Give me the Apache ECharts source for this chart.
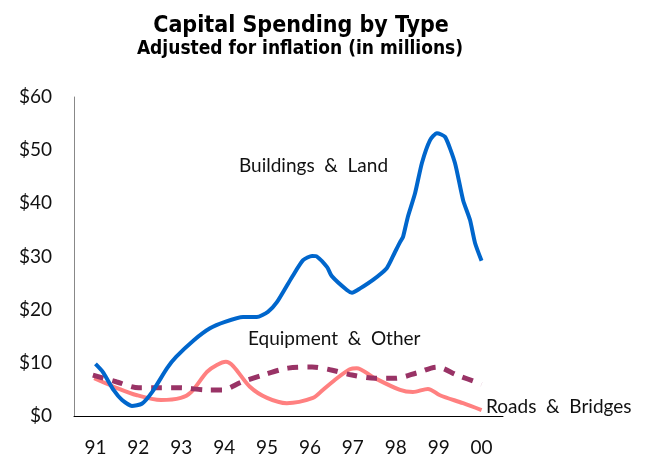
<!DOCTYPE html>
<html>
<head>
<meta charset="utf-8">
<script src="https://cdn.jsdelivr.net/npm/echarts@6/dist/echarts.min.js"></script>
<style>
  html, body { margin: 0; padding: 0; background: #fff; }
  #chart { width: 654px; height: 460px; }
</style>
</head>
<body>
<div id="chart"></div>
<script>
// year labels on the x axis (one band per year)
const yearLabels = ['91','92','93','94','95','96','97','98','99','00'];
const yTicks = [0, 10, 20, 30, 40, 50, 60];

// [year, $ millions]
const buildingsLand = [
  [91.00, 9.8], [91.17, 8.3], [91.43, 4.8], [91.62, 3.0], [91.85, 1.9],
  [92.08, 2.3], [92.32, 4.5], [92.67, 9.0], [92.88, 11.1], [93.30, 14.3],
  [93.67, 16.5], [94.02, 17.7], [94.44, 18.6], [94.76, 18.6], [95.02, 19.6],
  [95.23, 21.4], [95.58, 26.1], [95.84, 29.3], [96.05, 30.1], [96.16, 30.0],
  [96.40, 28.0], [96.51, 26.3], [96.86, 23.7], [96.98, 23.2], [97.17, 24.0],
  [97.47, 25.6], [97.79, 27.8], [97.98, 30.8], [98.10, 32.7], [98.17, 33.7],
  [98.28, 37.4], [98.45, 41.9], [98.61, 47.6], [98.80, 51.9], [98.96, 53.2],
  [99.15, 52.5], [99.38, 47.6], [99.57, 40.6], [99.73, 36.9], [99.85, 32.5],
  [100.0, 29.2]
];
const roadsBridges = [
  [90.97, 7.1], [91.43, 5.5], [91.97, 3.9], [92.53, 3.0], [92.99, 3.4],
  [93.23, 4.5], [93.60, 8.3], [93.83, 9.6], [94.04, 10.2], [94.21, 9.4],
  [94.60, 5.5], [95.00, 3.4], [95.46, 2.4], [96.07, 3.4], [96.30, 4.9],
  [96.63, 7.1], [96.93, 8.8], [97.09, 9.0], [97.47, 7.3], [98.10, 4.9],
  [98.40, 4.5], [98.75, 5.1], [99.03, 3.9], [99.57, 2.4], [100.0, 1.1]
];
const equipmentOther = [
  [90.94, 7.7], [91.50, 6.4], [92.01, 5.3], [92.48, 5.3], [92.99, 5.3],
  [93.58, 4.9], [93.95, 4.9], [94.41, 6.4], [94.90, 7.7], [95.49, 9.0],
  [96.05, 9.2], [96.47, 8.7], [96.98, 7.7], [97.52, 7.1], [97.98, 7.1],
  [98.49, 8.1], [98.96, 9.2], [99.43, 7.7], [100.0, 6.0]
];

const FONT = 'Lato, "Noto Sans", sans-serif';
const TITLE_FONT = '"DejaVu Sans Condensed", "DejaVu Sans", sans-serif';
const chart = echarts.init(document.getElementById('chart'));

function label(text, x, y){
  return { type: 'text', x: x, y: y, style: { text: text, fill: '#111', font: '19px ' + FONT, textVerticalAlign: 'middle' } };
}

const option = {
  animation: false,
  grid: { left: 74, right: 151, top: 97, bottom: 44 },
  graphic: [
    { type: 'text', x: 301, y: 26, style: { text: 'Capital Spending by Type', fill: '#000', font: 'bold 23px ' + TITLE_FONT, textAlign: 'center', textVerticalAlign: 'middle' } },
    { type: 'text', x: 300, y: 49, style: { text: 'Adjusted for inflation (in millions)', fill: '#000', font: 'bold 19px ' + TITLE_FONT, textAlign: 'center', textVerticalAlign: 'middle' } },
    label('Buildings  &  Land', 239, 166),
    label('Equipment  &  Other', 248, 339),
    label('Roads  &  Bridges', 486, 407)
  ],
  xAxis: [
    { type: 'category', data: yearLabels, boundaryGap: true,
      axisLine: { lineStyle: { color: '#000', width: 1 } }, axisTick: { show: false },
      axisLabel: { color: '#111', fontSize: 19, fontFamily: FONT, margin: 22 } },
    { type: 'value', min: 90.5, max: 100.5, show: false }
  ],
  yAxis: {
    type: 'value', min: yTicks[0], max: yTicks[yTicks.length - 1], interval: 10,
    axisLine: { show: true, lineStyle: { color: '#888', width: 1 } }, axisTick: { show: false },
    splitLine: { show: false },
    axisLabel: { color: '#111', fontSize: 19, fontFamily: FONT, margin: 22, formatter: v => '$' + v }
  },
  series: [
    { name: 'Roads & Bridges', type: 'line', xAxisIndex: 1, data: roadsBridges, smooth: 0.3, symbol: 'none',
      lineStyle: { color: '#ff8080', width: 4 } },
    { name: 'Equipment & Other', type: 'line', xAxisIndex: 1, data: equipmentOther, smooth: 0.3, symbol: 'none',
      lineStyle: { color: '#993366', width: 5, type: [11, 9] } },
    { name: 'Buildings & Land', type: 'line', xAxisIndex: 1, data: buildingsLand, smooth: 0.2, symbol: 'none',
      lineStyle: { color: '#0066cc', width: 4 } }
  ]
};
chart.setOption(option);
</script>
</body>
</html>
